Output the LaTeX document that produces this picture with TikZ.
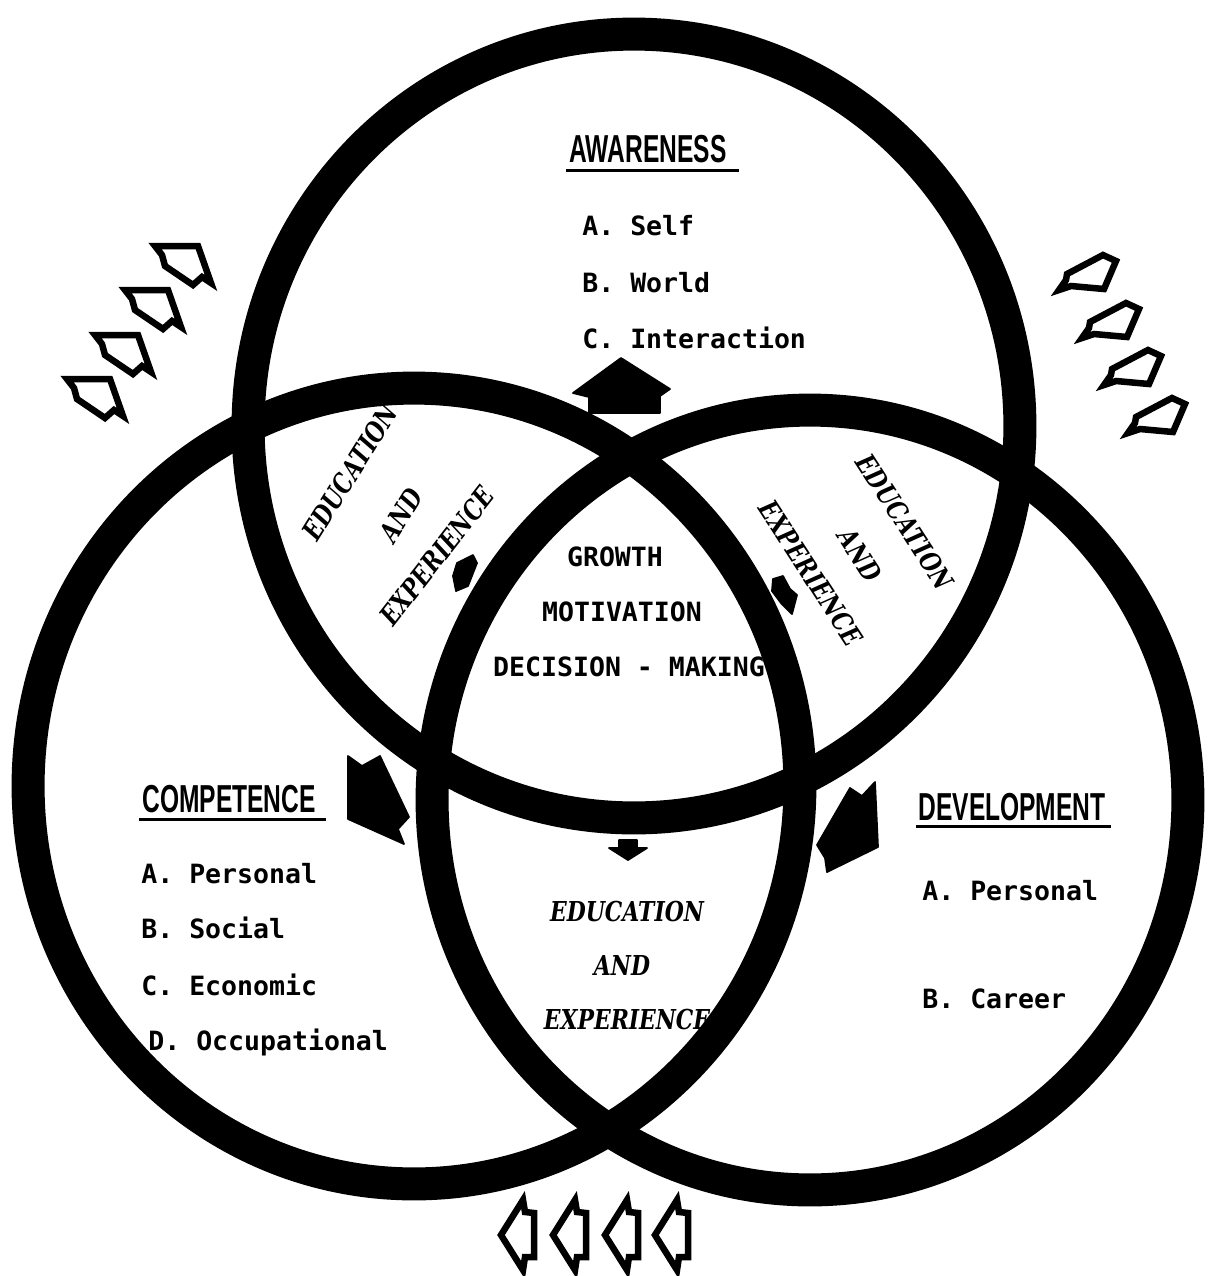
\documentclass[tikz,border=0pt]{standalone}
\usepackage{fontspec}
\usepackage{graphicx}
\usetikzlibrary{calc}
\newfontfamily\monofnt{DejaVu Sans Mono}
\newfontfamily\titlefnt{Liberation Sans}
\newfontfamily\slabfnt{DejaVu Serif}
\newcommand{\ttl}[1]{\scalebox{0.63}[1]{\titlefnt\bfseries\fontsize{22.2}{26}\selectfont #1}}
\newcommand{\edu}[1]{\scalebox{0.8}[1]{\slabfnt\bfseries\itshape\fontsize{15.6}{18}\selectfont #1}}
\tikzset{
  ring/.style={line width=0.66cm},
  item/.style={font=\monofnt\bfseries\fontsize{15.1}{18}\selectfont, anchor=base west, inner sep=0pt},
  mid/.style={font=\monofnt\bfseries\fontsize{15.1}{18}\selectfont, inner sep=0pt},
  edutxt/.style={inner sep=0pt},
  titletxt/.style={inner sep=0pt, anchor=base},
  uline/.style={line width=0.06cm},
  solidarrow/.style={fill=black, draw=black, line width=1pt, line join=round},
  outl/.style={draw=black, line width=0.13cm, line join=miter, fill=white},
  larrow/.pic={\draw[outl] (-28,-19) -- (15,-19) -- (28,18) -- (19,12) -- (10,20) -- (-18,1) -- (-21,-10) -- cycle;},
  rarrow/.pic={\draw[outl] (-20,2) -- (16,-17) -- (29,-11) -- (17,17) -- (-16,14) -- (-28,18) -- (-21,8) -- cycle;},
  barrow/.pic={\draw[outl] (-17,0) -- (5,-35) -- (7,-23) -- (16,-22) -- (16,22) -- (7,22) -- (5,35) -- cycle;}
}
\begin{document}
\begin{tikzpicture}[x=0.02cm, y=-0.02cm]
\useasboundingbox (0,0) rectangle (1213,1276);

% rings
\draw[ring] (634,426) ellipse [x radius=7.72cm, y radius=7.84cm];
\draw[ring] (414,786) ellipse [x radius=7.72cm, y radius=7.96cm];
\draw[ring] (810,800) ellipse [x radius=7.56cm, y radius=7.8cm];

% outline arrow groups
\pic at (183,265) {larrow};
\pic at (153,309) {larrow};
\pic at (123,354) {larrow};
\pic at (95,398) {larrow};
\pic at (1087,272) {rarrow};
\pic at (1110,320) {rarrow};
\pic at (1132,367) {rarrow};
\pic at (1156,415) {rarrow};
\pic at (518,1235) {barrow};
\pic at (570,1235) {barrow};
\pic at (622,1235) {barrow};
\pic at (672,1235) {barrow};

% solid arrows
\fill[solidarrow] (621,358) -- (670,389) -- (660,396) -- (660,413) -- (589,413) -- (589,397) -- (573,393) -- cycle;
\fill[solidarrow] (348,756) -- (362,766) -- (380,756) -- (409,817) -- (398,829) -- (404,844) -- (348,819) -- cycle;
\fill[solidarrow] (850,788) -- (862,796) -- (875,782) -- (878,847) -- (827,872) -- (825,858) -- (817,845) -- cycle;
\fill[solidarrow] (457,563) -- (473,555) -- (477,563) -- (468,586) -- (456,591) -- (453,576) -- cycle;
\fill[solidarrow] (773,579) -- (783,576) -- (790,589) -- (797,595) -- (792,614) -- (781,603) -- (772,591) -- cycle;
\fill[solidarrow] (619,840) -- (637,840) -- (637,848) -- (647,848) -- (628,860) -- (609,848) -- (619,848) -- cycle;

% titles
\node[titletxt] (aw) at (648,162) {\ttl{AWARENESS}};
\draw[uline] ($(aw.base west)+(-3,8)$) -- ($(aw.base east)+(12,8)$);
\node[titletxt] (co) at (229,812) {\ttl{COMPETENCE}};
\draw[uline] ($(co.base west)+(-3,7)$) -- ($(co.base east)+(10,7)$);
\node[titletxt] (de) at (1012,820) {\ttl{DEVELOPMENT}};
\draw[uline] ($(de.base west)+(-2,6)$) -- ($(de.base east)+(5,6)$);

% awareness list
\node[item] (aw1) at (582,235) {A. Self};
\node[item] (aw2) at (582,292) {B. World};
\node[item] (aw3) at (582,348) {C. Interaction};

% competence list
\node[item] (co1) at (141,883) {A.  Personal};
\node[item] (co2) at (141,938) {B.  Social};
\node[item] (co3) at (141,995) {C.  Economic};
\node[item] (co4) at (148,1050) {D. Occupational};

% development list
\node[item] (de1) at (922,900) {A. Personal};
\node[item] (de2) at (922,1008) {B. Career};

% centre
\node[mid] (c1) at (615,557) {GROWTH};
\node[mid] (c2) at (622,612) {MOTIVATION};
\node[mid] (c3) at (629,667) {DECISION - MAKING};

% education and experience labels
\node[edutxt, rotate=58] (l1) at (350,472) {\edu{EDUCATION}};
\node[edutxt, rotate=58] (l2) at (401,515) {\edu{AND}};
\node[edutxt, rotate=52] (l3) at (437,556) {\edu{EXPERIENCE}};
\node[edutxt, rotate=-57] (r1) at (905,522) {\edu{EDUCATION}};
\node[edutxt, rotate=-57] (r2) at (860,555) {\edu{AND}};
\node[edutxt, rotate=-57] (r3) at (811,573) {\edu{EXPERIENCE}};
\node[edutxt] (b1) at (627,912) {\edu{EDUCATION}};
\node[edutxt] (b2) at (622,965) {\edu{AND}};
\node[edutxt] (b3) at (627,1020) {\edu{EXPERIENCE}};
\end{tikzpicture}
\end{document}
